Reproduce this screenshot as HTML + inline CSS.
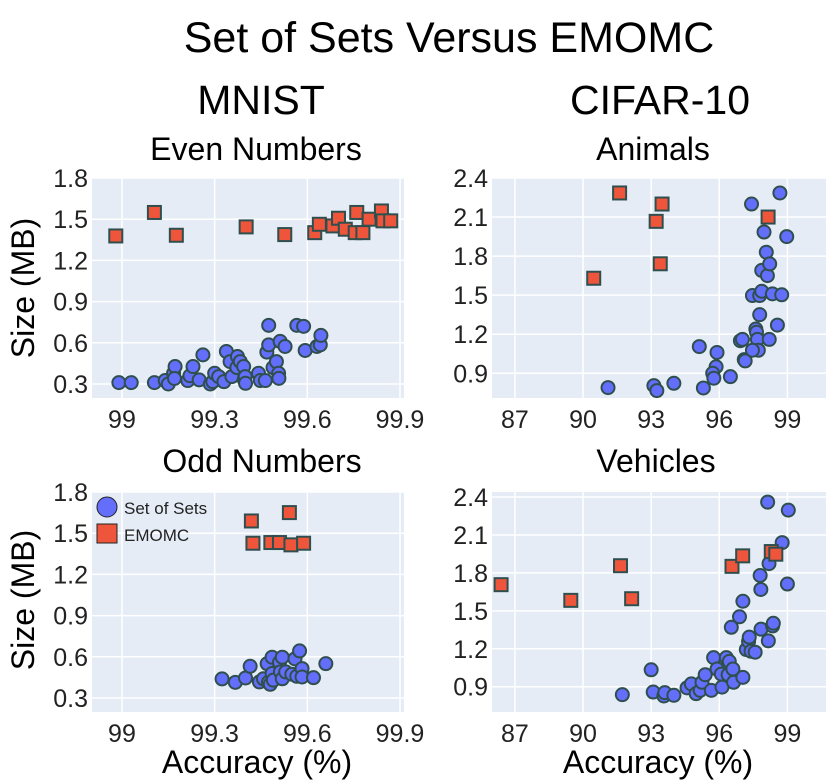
<!DOCTYPE html>
<html><head><meta charset="utf-8"><style>
html,body{margin:0;padding:0;background:#fff;}
svg{display:block;font-family:"Liberation Sans",Arial,sans-serif;}
</style></head><body>
<svg id="chart" width="839" height="781" viewBox="0 0 839 781" xmlns="http://www.w3.org/2000/svg">
<text x="449" y="52" font-size="43" text-anchor="middle" fill="#000">Set of Sets Versus EMOMC</text>
<text x="261" y="114" font-size="41" text-anchor="middle" fill="#000">MNIST</text>
<text x="660" y="114" font-size="41" text-anchor="middle" fill="#000">CIFAR-10</text>
<text x="256" y="160" font-size="32" text-anchor="middle" fill="#000">Even Numbers</text>
<text x="653" y="160" font-size="32" text-anchor="middle" fill="#000">Animals</text>
<text x="262" y="472" font-size="32" text-anchor="middle" fill="#000">Odd Numbers</text>
<text x="656" y="472" font-size="32" text-anchor="middle" fill="#000">Vehicles</text>
<text transform="translate(34,288) rotate(-90)" font-size="32" text-anchor="middle" fill="#000">Size (MB)</text>
<text transform="translate(34,600) rotate(-90)" font-size="32" text-anchor="middle" fill="#000">Size (MB)</text>
<text x="257" y="773" font-size="32" text-anchor="middle" fill="#000">Accuracy (%)</text>
<text x="658" y="773" font-size="32" text-anchor="middle" fill="#000">Accuracy (%)</text>
<g id="panels"></g>
</svg>
<script>
// Even Numbers (MNIST)
const evenSetX=[98.99,99.03,99.105,99.14,99.15,99.167,99.172,99.17,99.213,99.22,99.23,99.25,99.262,99.286,99.294,99.30,99.313,99.33,99.338,99.35,99.356,99.374,99.372,99.383,99.394,99.396,99.399,99.40,99.442,99.448,99.464,99.469,99.475,99.475,99.489,99.50,99.507,99.508,99.512,99.528,99.566,99.588,99.593,99.631,99.642,99.644];
const evenSetY=[0.31,0.31,0.31,0.325,0.30,0.378,0.427,0.34,0.325,0.36,0.427,0.33,0.512,0.30,0.317,0.378,0.354,0.317,0.537,0.463,0.354,0.50,0.42,0.463,0.427,0.33,0.354,0.305,0.378,0.325,0.325,0.532,0.585,0.727,0.42,0.463,0.378,0.341,0.61,0.573,0.727,0.72,0.544,0.573,0.585,0.654];
const evenEmoX=[98.98,99.105,99.176,99.402,99.527,99.624,99.639,99.683,99.701,99.723,99.76,99.755,99.78,99.80,99.84,99.845,99.87];
const evenEmoY=[1.378,1.549,1.383,1.444,1.388,1.402,1.463,1.451,1.507,1.427,1.549,1.402,1.402,1.50,1.56,1.488,1.488];
// Animals (CIFAR-10)
const animSetX=[91.10,93.12,93.25,94.0,95.12,95.30,95.90,95.86,95.71,95.76,96.49,96.93,97.02,97.10,97.14,97.42,97.46,97.61,97.64,97.68,97.72,97.46,97.78,97.78,97.87,97.87,97.97,98.07,98.12,98.22,98.20,98.34,98.56,98.67,98.75,98.97];
const animSetY=[0.79,0.805,0.767,0.823,1.105,0.787,1.06,0.95,0.90,0.862,0.874,1.15,1.16,1.005,0.995,2.2,1.497,1.24,1.215,1.16,1.077,1.077,1.497,1.35,1.53,1.69,1.985,1.83,1.65,1.74,1.16,1.51,1.27,2.285,1.503,1.95];
const animEmoX=[91.61,93.48,93.22,93.40,90.47,98.15];
const animEmoY=[2.285,2.2,2.067,1.741,1.63,2.1];
// Odd Numbers (MNIST)
const oddSetX=[99.324,99.367,99.40,99.415,99.445,99.458,99.47,99.474,99.48,99.486,99.486,99.49,99.51,99.513,99.519,99.519,99.53,99.55,99.56,99.566,99.575,99.583,99.583,99.62,99.66];
const oddSetY=[0.439,0.414,0.446,0.531,0.417,0.44,0.55,0.414,0.40,0.597,0.478,0.43,0.56,0.49,0.597,0.44,0.49,0.473,0.585,0.458,0.643,0.514,0.453,0.448,0.55];
const oddEmoX=[99.419,99.542,99.424,99.482,99.51,99.547,99.588];
const oddEmoY=[1.589,1.65,1.427,1.432,1.432,1.415,1.427];
// Vehicles (CIFAR-10)
const vehSetX=[91.73,93.0,93.09,93.56,93.6,94.0,94.58,94.77,94.98,95.16,95.24,95.38,95.65,95.75,95.9,96.09,96.12,96.31,96.39,96.44,96.53,96.6,96.63,96.89,97.04,97.04,97.19,97.29,97.32,97.40,97.58,97.80,97.83,97.84,98.13,98.16,98.19,98.35,98.38,98.77,99.0,99.04];
const vehSetY=[0.837,1.034,0.858,0.827,0.853,0.832,0.891,0.922,0.845,0.871,0.935,0.995,0.871,1.13,1.04,1.0,0.897,1.13,0.995,1.1,1.37,1.04,0.935,1.453,1.576,0.974,1.194,1.258,1.292,1.18,1.173,1.78,1.669,1.355,2.36,1.263,1.874,1.381,1.402,2.04,1.712,2.297];
const vehEmoX=[86.39,89.46,91.65,92.14,96.56,97.03,98.29,98.49];
const vehEmoY=[1.707,1.583,1.857,1.596,1.852,1.935,1.969,1.948];
// Tick labels
const mnistXTicks=[99,99.3,99.6,99.9];
const mnistXLabels=["99","99.3","99.6","99.9"];
const mnistYTicks=[0.3,0.6,0.9,1.2,1.5,1.8];
const mnistYLabels=["0.3","0.6","0.9","1.2","1.5","1.8"];
const cifarXTicks=[87,90,93,96,99];
const cifarXLabels=["87","90","93","96","99"];
const cifarYTicks=[0.9,1.2,1.5,1.8,2.1,2.4];
const cifarYLabels=["0.9","1.2","1.5","1.8","2.1","2.4"];

const NS="http://www.w3.org/2000/svg";
const root=document.getElementById('panels');
function mk(tag,attrs,parent){const e=document.createElementNS(NS,tag);for(const k in attrs)e.setAttribute(k,attrs[k]);(parent||root).appendChild(e);return e;}

const panels=[
 {name:'even',l:92,t:178,w:312,h:220,x0:98.903,x1:99.913,y0:0.198,y1:1.8,xt:mnistXTicks,xl:mnistXLabels,yt:mnistYTicks,yl:mnistYLabels,sx:evenSetX,sy:evenSetY,ex:evenEmoX,ey:evenEmoY},
 {name:'animals',l:492,t:178,w:334,h:220,x0:85.99,x1:100.7,y0:0.71,y1:2.4,xt:cifarXTicks,xl:cifarXLabels,yt:cifarYTicks,yl:cifarYLabels,sx:animSetX,sy:animSetY,ex:animEmoX,ey:animEmoY},
 {name:'odd',l:92,t:492,w:312,h:220,x0:98.903,x1:99.913,y0:0.198,y1:1.8,xt:mnistXTicks,xl:mnistXLabels,yt:mnistYTicks,yl:mnistYLabels,sx:oddSetX,sy:oddSetY,ex:oddEmoX,ey:oddEmoY,legend:true},
 {name:'vehicles',l:492,t:492,w:334,h:220,x0:85.99,x1:100.7,y0:0.70,y1:2.44,xt:cifarXTicks,xl:cifarXLabels,yt:cifarYTicks,yl:cifarYLabels,sx:vehSetX,sy:vehSetY,ex:vehEmoX,ey:vehEmoY}
];
panels.forEach(p=>{
 const X=v=>p.l+(v-p.x0)/(p.x1-p.x0)*p.w;
 const Y=v=>p.t+p.h-(v-p.y0)/(p.y1-p.y0)*p.h;
 const g=mk('g',{});
 
 
 const bg=mk('rect',{x:p.l,y:p.t,width:p.w,height:p.h,fill:'#e5ecf6'},g);
 
 
 p.xt.forEach((v,i)=>{
  const gl=mk('line',{x1:X(v),x2:X(v),y1:p.t,y2:p.t+p.h,stroke:'#fff','stroke-width':1.5},g);
  
  
  const tx=mk('text',{x:X(v),y:p.t+p.h+30,'font-size':25,'text-anchor':'middle',fill:'#222'},g);
  
  
  tx.textContent=p.xl[i];
 });
 p.yt.forEach((v,i)=>{
  const gl=mk('line',{x1:p.l,x2:p.l+p.w,y1:Y(v),y2:Y(v),stroke:'#fff','stroke-width':1.5},g);
  
  
  const tx=mk('text',{x:p.l-4,y:Y(v)+9,'font-size':25,'text-anchor':'end',fill:'#222'},g);
  
  
  tx.textContent=p.yl[i];
 });
 p.sx.forEach((v,i)=>{
  const c=mk('circle',{cx:X(v),cy:Y(p.sy[i]),r:6.5,fill:'#636efa',stroke:'#2f4f4f','stroke-width':2},g);
  
  
 });
 p.ex.forEach((v,i)=>{
  const s=mk('rect',{x:X(v)-6.5,y:Y(p.ey[i])-6.5,width:13,height:13,fill:'#ef553b',stroke:'#2f4f4f','stroke-width':2},g);
  
  
 });
 if(p.legend){
  const lg=mk('g',{},g);
  
  
  const c=mk('circle',{cx:107,cy:507,r:10,fill:'#636efa',stroke:'#222','stroke-width':1},lg);
  
  
  const t1=mk('text',{x:124,y:514,'font-size':17,fill:'#222'},lg);
  
  
  t1.textContent='Set of Sets';
  const s=mk('rect',{x:97,y:524,width:20,height:19,fill:'#ef553b',stroke:'#222','stroke-width':1},lg);
  
  
  const t2=mk('text',{x:124,y:541,'font-size':17,fill:'#222'},lg);
  
  
  t2.textContent='EMOMC';
 }
});
</script>
</body></html>
